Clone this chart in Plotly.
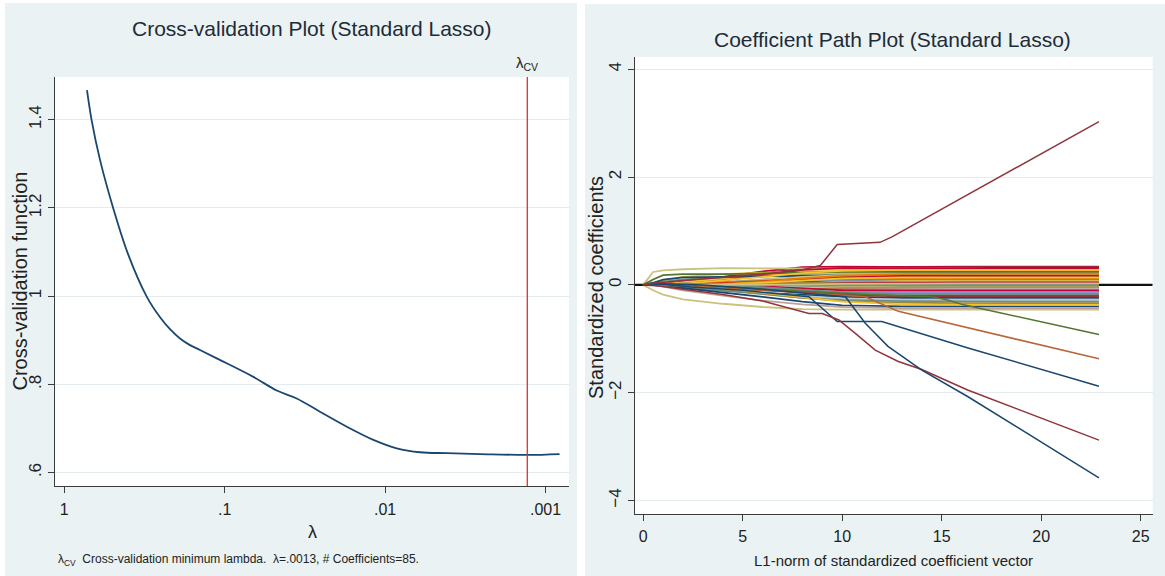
import math
import plotly.graph_objects as go

# ---------------- Left panel: cross-validation curve ----------------
cv_lambda = [0.722, 0.675, 0.599, 0.495, 0.401, 0.3064, 0.253, 0.2193, 0.190, 0.1646,
             0.1426, 0.1122, 0.0663, 0.0474, 0.0356, 0.0255, 0.01655, 0.01185, 0.00847,
             0.00606, 0.00413, 0.00256, 0.00129, 0.000818]
cv_value = [1.467, 1.398, 1.309, 1.199, 1.096, 0.999, 0.952, 0.925, 0.904, 0.889,
            0.878, 0.859, 0.817, 0.786, 0.768, 0.738, 0.700, 0.674, 0.655,
            0.646, 0.644, 0.642, 0.640, 0.642]
lambda_cv = 0.0013
cv_xtick_vals = [1, 0.1, 0.01, 0.001]
cv_xtick_text = ["1", ".1", ".01", ".001"]
cv_ytick_vals = [0.6, 0.8, 1.0, 1.2, 1.4]
cv_ytick_text = [".6", ".8", "1", "1.2", "1.4"]
cv_yrange = [0.5695, 1.497]

# ---------------- Right panel: coefficient paths ----------------
path_xtick_vals = [0, 5, 10, 15, 20, 25]
path_ytick_vals = [-4, -2, 0, 2, 4]
path_xrange = [-0.41, 25.6]
path_yrange = [-4.25, 4.228]

# common L1-norm grid for the dense bundle of coefficients
l1_grid = [0, 0.5, 1, 2, 4, 6, 8, 10, 13, 16, 19, 22.9]
b01 = [0, 0, 0.01, 0.04, 0.12, 0.22, 0.30, 0.33, 0.34, 0.34, 0.34, 0.34]
b02 = [0, 0, 0.02, 0.06, 0.15, 0.25, 0.33, 0.34, 0.33, 0.33, 0.32, 0.32]
b03 = [0, 0.24, 0.27, 0.29, 0.31, 0.31, 0.31, 0.31, 0.30, 0.30, 0.29, 0.29]
b04 = [0, 0.02, 0.08, 0.15, 0.20, 0.23, 0.25, 0.26, 0.27, 0.27, 0.27, 0.27]
b05 = [0, 0, 0, 0.03, 0.10, 0.17, 0.22, 0.24, 0.25, 0.25, 0.25, 0.25]
b06 = [0, 0, 0, 0.02, 0.08, 0.18, 0.28, 0.31, 0.31, 0.30, 0.30, 0.30]
b07 = [0, 0, 0, 0, 0.04, 0.10, 0.16, 0.20, 0.22, 0.22, 0.22, 0.22]
b08 = [0, 0, 0.01, 0.05, 0.12, 0.17, 0.20, 0.21, 0.21, 0.21, 0.21, 0.21]
b09 = [0, 0.03, 0.06, 0.10, 0.14, 0.16, 0.18, 0.19, 0.19, 0.19, 0.19, 0.19]
b10 = [0, 0, 0, 0, 0.03, 0.08, 0.12, 0.15, 0.16, 0.16, 0.16, 0.16]
b11 = [0, 0.04, 0.10, 0.14, 0.15, 0.16, 0.17, 0.16, 0.16, 0.15, 0.15, 0.15]
b12 = [0, 0, 0, 0, 0.02, 0.05, 0.09, 0.12, 0.13, 0.13, 0.13, 0.13]
b13 = [0, 0, 0, 0.01, 0.05, 0.10, 0.15, 0.18, 0.20, 0.20, 0.20, 0.20]
b14 = [0, 0, 0, 0, 0, 0.03, 0.06, 0.09, 0.11, 0.11, 0.11, 0.11]
b15 = [0, 0, 0.01, 0.03, 0.06, 0.08, 0.09, 0.09, 0.09, 0.09, 0.09, 0.09]
b16 = [0, 0, 0, 0, 0, 0.01, 0.03, 0.05, 0.07, 0.07, 0.07, 0.07]
b17 = [0, 0, 0, 0, 0.01, 0.02, 0.04, 0.05, 0.05, 0.05, 0.05, 0.05]
b18 = [0, 0, 0, 0, 0, 0, 0.01, 0.03, 0.04, 0.04, 0.04, 0.04]
b19 = [0, 0, 0, 0, 0, 0, 0, 0.01, 0.02, 0.02, 0.02, 0.02]
b20 = [0, 0, 0, 0.01, 0.04, 0.08, 0.11, 0.12, 0.12, 0.12, 0.12, 0.12]
b21 = [0, 0.10, 0.18, 0.20, 0.20, 0.21, 0.23, 0.24, 0.24, 0.24, 0.24, 0.24]
b22 = [0, 0, 0, 0.02, 0.08, 0.15, 0.22, 0.26, 0.28, 0.28, 0.28, 0.28]
b23 = [0, 0, 0, 0, 0, 0, -0.01, -0.02, -0.02, -0.02, -0.02, -0.02]
b24 = [0, 0, 0, 0, 0, -0.01, -0.02, -0.03, -0.04, -0.04, -0.04, -0.04]
b25 = [0, 0, 0, -0.01, -0.02, -0.03, -0.04, -0.05, -0.05, -0.05, -0.05, -0.05]
b26 = [0, 0, 0, 0, -0.01, -0.03, -0.05, -0.07, -0.07, -0.07, -0.07, -0.07]
b27 = [0, 0, 0, 0, -0.02, -0.05, -0.07, -0.08, -0.09, -0.09, -0.09, -0.09]
b28 = [0, 0, 0, 0, 0, -0.03, -0.07, -0.10, -0.11, -0.11, -0.11, -0.11]
b29 = [0, 0, -0.02, -0.05, -0.08, -0.10, -0.12, -0.13, -0.13, -0.13, -0.13, -0.13]
b30 = [0, 0, 0, 0, -0.03, -0.07, -0.11, -0.14, -0.15, -0.15, -0.15, -0.15]
b31 = [0, 0, 0, -0.02, -0.06, -0.10, -0.14, -0.17, -0.19, -0.19, -0.19, -0.19]
b32 = [0, 0, -0.02, -0.05, -0.10, -0.15, -0.19, -0.22, -0.24, -0.24, -0.24, -0.24]
b33 = [0, 0, 0, -0.03, -0.09, -0.15, -0.21, -0.25, -0.28, -0.28, -0.28, -0.28]
b34 = [0, 0, -0.01, -0.04, -0.10, -0.17, -0.24, -0.28, -0.30, -0.31, -0.31, -0.31]
b35 = [0, 0, 0, -0.02, -0.08, -0.16, -0.24, -0.30, -0.33, -0.34, -0.34, -0.34]
b36 = [0, 0, -0.02, -0.06, -0.13, -0.22, -0.31, -0.38, -0.40, -0.40, -0.40, -0.40]
b37 = [0, -0.10, -0.18, -0.27, -0.35, -0.41, -0.45, -0.46, -0.46, -0.46, -0.46, -0.46]
b38 = [0, 0, -0.03, -0.10, -0.20, -0.29, -0.36, -0.41, -0.43, -0.43, -0.43, -0.43]
b39 = [0, 0, 0, -0.01, -0.06, -0.14, -0.23, -0.31, -0.36, -0.37, -0.37, -0.37]
b40 = [0, 0, 0, 0, -0.03, -0.08, -0.14, -0.19, -0.21, -0.21, -0.21, -0.21]
b41 = [0, 0, 0, 0.01, 0.03, 0.06, 0.10, 0.14, 0.17, 0.17, 0.17, 0.17]
b42 = [0, 0, 0, 0, 0.02, 0.06, 0.12, 0.17, 0.20, 0.21, 0.21, 0.21]
b43 = [0, 0, 0, 0, -0.01, -0.04, -0.09, -0.14, -0.17, -0.17, -0.17, -0.17]
b44 = [0, 0, 0, 0, 0.01, 0.04, 0.08, 0.12, 0.14, 0.14, 0.14, 0.14]
b45 = [0, 0, 0, 0, 0, 0.005, 0.01, 0.01, 0.01, 0.01, 0.01, 0.01]
b46 = [0, 0, 0, 0, 0, 0, -0.005, -0.01, -0.01, -0.01, -0.01, -0.01]
b47 = [0, 0, 0, 0, 0, 0, 0, 0.002, 0.003, 0.003, 0.003, 0.003]
b48 = [0, 0, 0, 0, 0, 0, 0.005, 0.02, 0.03, 0.03, 0.03, 0.03]

# coefficients that leave the bundle (own L1-norm knots)
up_x = [0, 0.5, 2, 4, 6, 8, 8.9, 9.75, 11.9, 12.5, 22.9]
up_y = [0, 0.03, 0.08, 0.14, 0.20, 0.28, 0.36, 0.75, 0.79, 0.89, 3.03]
steep_x = [0, 1, 3, 6, 8, 10.16, 11.16, 12.3, 14.0, 16.3, 22.9]
steep_y = [0, 0.02, 0.0, -0.08, -0.15, -0.22, -0.71, -1.14, -1.58, -2.07, -3.58]
navy2_x = [0, 0.8, 2.4, 5, 8.33, 9.75, 11.99, 16.32, 22.9]
navy2_y = [0, 0.02, -0.04, -0.10, -0.22, -0.68, -0.68, -1.17, -1.88]
maroon2_x = [0, 0.8, 2, 4, 6, 7.33, 8.33, 9.0, 9.83, 10.66, 11.66, 12.82, 14.0, 16.3, 22.9]
maroon2_y = [0, -0.02, -0.08, -0.18, -0.30, -0.43, -0.53, -0.53, -0.65, -0.90, -1.21, -1.42, -1.57, -1.95, -2.88]
orange_x = [0, 1, 3, 6, 9, 11.16, 12.82, 16.32, 22.9]
orange_y = [0, 0, -0.03, -0.10, -0.17, -0.22, -0.49, -0.80, -1.37]
green_x = [0, 1, 3, 6, 9, 12, 14.5, 15.3, 16.1, 22.9]
green_y = [0, 0, -0.02, -0.08, -0.14, -0.19, -0.22, -0.28, -0.37, -0.92]
zero_level = 0

# ---------------- styles ----------------
NAVY, MAROON, FGREEN, DKORANGE = "#1a476f", "#90353b", "#55752f", "#e37e00"
TEAL, CRANBERRY, LAVENDER, KHAKI = "#6e8e84", "#c10534", "#938dd2", "#cac27e"
SIENNA, EMIDBLUE, EMERALD, BROWN = "#b8653a", "#7b92a8", "#2d6d66", "#9c8847"
EROSE, GOLD, BLUISHGRAY = "#bfa19c", "#f2c230", "#b9c8cf"

bundle = [b01, b02, b03, b04, b05, b06, b07, b08, b09, b10, b11, b12, b13, b14, b15,
          b16, b17, b18, b19, b20, b21, b22, b23, b24, b25, b26, b27, b28, b29, b30,
          b31, b32, b33, b34, b35, b36, b37, b38, b39, b40, b41, b42, b43, b44,
          b45, b46, b47, b48]
bundle_colors = [MAROON, CRANBERRY, KHAKI, GOLD, DKORANGE, CRANBERRY, LAVENDER, GOLD,
                 TEAL, CRANBERRY, NAVY, SIENNA, KHAKI, MAROON, EMIDBLUE, GOLD, BROWN,
                 CRANBERRY, EROSE, DKORANGE, FGREEN, GOLD, EMERALD, KHAKI, TEAL,
                 BLUISHGRAY, SIENNA, CRANBERRY, EMIDBLUE, LAVENDER, FGREEN, NAVY,
                 BLUISHGRAY, TEAL, BROWN, NAVY, KHAKI, EROSE, GOLD, MAROON, CRANBERRY,
                 DKORANGE, TEAL, GOLD, EMIDBLUE, DKORANGE, TEAL, KHAKI]

BG = "#eaf2f3"
GRID = "#e4ecef"
AXC = "#3c3c3c"
TXT = "#1e2b38"
FONT = "Liberation Sans, Arial, sans-serif"
W, H = 1165, 576

# plot-area pixel boxes (left, right, top, bottom)
L_BOX = (55, 569, 77, 486)
R_BOX = (635, 1152.7, 57, 514)

fig = go.Figure()

# left: CV curve and lambda_cv marker line
fig.add_trace(go.Scatter(x=cv_lambda, y=cv_value, mode="lines", xaxis="x", yaxis="y",
                         line=dict(color=NAVY, width=1.8, shape="spline", smoothing=1.0),
                         showlegend=False, hoverinfo="skip"))
fig.add_trace(go.Scatter(x=[lambda_cv, lambda_cv], y=cv_yrange, mode="lines",
                         xaxis="x", yaxis="y", line=dict(color="#f02828", width=1.3),
                         showlegend=False, hoverinfo="skip"))

# right: zero reference line (under the paths), then coefficient paths
fig.add_trace(go.Scatter(x=path_xrange, y=[zero_level, zero_level], mode="lines",
                         xaxis="x2", yaxis="y2", line=dict(color="#111111", width=2.2),
                         showlegend=False, hoverinfo="skip"))
for vals, col in zip(bundle, bundle_colors):
    fig.add_trace(go.Scatter(x=l1_grid, y=vals, mode="lines", xaxis="x2", yaxis="y2",
                             line=dict(color=col, width=1.8), showlegend=False,
                             hoverinfo="skip"))
for xs, ys, col in [(green_x, green_y, FGREEN), (orange_x, orange_y, SIENNA),
                    (navy2_x, navy2_y, NAVY), (maroon2_x, maroon2_y, MAROON),
                    (steep_x, steep_y, NAVY), (up_x, up_y, MAROON)]:
    fig.add_trace(go.Scatter(x=xs, y=ys, mode="lines", xaxis="x2", yaxis="y2",
                             line=dict(color=col, width=1.5), showlegend=False,
                             hoverinfo="skip"))

axis_common = dict(showline=True, linecolor=AXC, linewidth=1, ticks="outside",
                   ticklen=6, tickcolor=AXC, tickwidth=1, zeroline=False, mirror=False)

fig.update_layout(
    width=W, height=H, margin=dict(l=0, r=0, t=0, b=0),
    paper_bgcolor="white", plot_bgcolor="white",
    xaxis=dict(domain=[L_BOX[0] / W, L_BOX[1] / W], anchor="y", type="log",
               range=[0.058, -3.146], tickvals=cv_xtick_vals, ticktext=cv_xtick_text,
               showgrid=False, tickfont=dict(family=FONT, size=16, color="#222"),
               ticklabelstandoff=3, **axis_common),
    yaxis=dict(domain=[1 - L_BOX[3] / H, 1 - L_BOX[2] / H], anchor="x", range=cv_yrange,
               tickvals=cv_ytick_vals, ticktext=cv_ytick_text, tickangle=-90,
               showgrid=True, gridcolor=GRID, gridwidth=1,
               tickfont=dict(family=FONT, size=17, color="#222"), **axis_common),
    xaxis2=dict(domain=[R_BOX[0] / W, R_BOX[1] / W], anchor="y2", range=path_xrange,
                tickvals=path_xtick_vals, showgrid=False,
                tickfont=dict(family=FONT, size=16, color="#222"),
                ticklabelstandoff=2, **axis_common),
    yaxis2=dict(domain=[1 - R_BOX[3] / H, 1 - R_BOX[2] / H], anchor="x2", range=path_yrange,
                tickvals=path_ytick_vals, tickangle=-90, showgrid=True, gridcolor=GRID,
                gridwidth=1, tickfont=dict(family=FONT, size=17, color="#222"),
                **axis_common),
)

shapes = [
    # panel backgrounds
    dict(type="rect", xref="paper", yref="paper", x0=5 / W, x1=577 / W, y0=0,
         y1=1 - 3 / H, fillcolor=BG, line=dict(width=0), layer="below"),
    dict(type="rect", xref="paper", yref="paper", x0=585 / W, x1=1, y0=0,
         y1=1 - 4 / H, fillcolor=BG, line=dict(width=0), layer="below"),
    # white plot regions
    dict(type="rect", xref="paper", yref="paper", x0=L_BOX[0] / W, x1=L_BOX[1] / W,
         y0=1 - L_BOX[3] / H, y1=1 - L_BOX[2] / H, fillcolor="white",
         line=dict(width=0), layer="below"),
    dict(type="rect", xref="paper", yref="paper", x0=R_BOX[0] / W, x1=R_BOX[1] / W,
         y0=1 - R_BOX[3] / H, y1=1 - R_BOX[2] / H, fillcolor="white",
         line=dict(width=0), layer="below"),
]
fig.update_layout(shapes=shapes)

note_text = "λ<sub>CV</sub>  Cross-validation minimum lambda.  λ=.0013, # Coefficients=85."
annotations = [
    dict(text="Cross-validation Plot (Standard Lasso)", x=312 / W, y=1 - 29 / H,
         font=dict(family=FONT, size=21, color=TXT)),
    dict(text="Coefficient Path Plot (Standard Lasso)", x=892 / W, y=1 - 39 / H,
         font=dict(family=FONT, size=21, color=TXT)),
    dict(text="λ<sub>CV</sub>", xref="x", x=math.log10(lambda_cv), y=1 - 63 / H,
         font=dict(family=FONT, size=15, color="#222")),
    dict(text="λ", x=312 / W, y=1 - 532 / H, font=dict(family=FONT, size=18, color="#222")),
    dict(text=note_text, x=56 / W, y=1 - 560 / H, xanchor="left",
         font=dict(family=FONT, size=12, color="#222")),
    dict(text="L1-norm of standardized coefficient vector", x=893 / W, y=1 - 560 / H,
         font=dict(family=FONT, size=15, color="#222")),
    dict(text="Cross-validation function", x=19 / W, y=1 - 281.5 / H, textangle=-90,
         font=dict(family=FONT, size=20, color="#222")),
    dict(text="Standardized coefficients", x=596 / W, y=1 - 287 / H, textangle=-90,
         font=dict(family=FONT, size=20, color="#222")),
]
for a in annotations:
    a.setdefault("xref", "paper")
    a.setdefault("yref", "paper")
    a.setdefault("xanchor", "center")
    a.setdefault("yanchor", "middle")
    a["showarrow"] = False
fig.update_layout(annotations=annotations)

fig.write_html("out.html", config={"displayModeBar": False},
               post_script="document.body.style.margin='0';document.body.style.overflow='hidden';")
